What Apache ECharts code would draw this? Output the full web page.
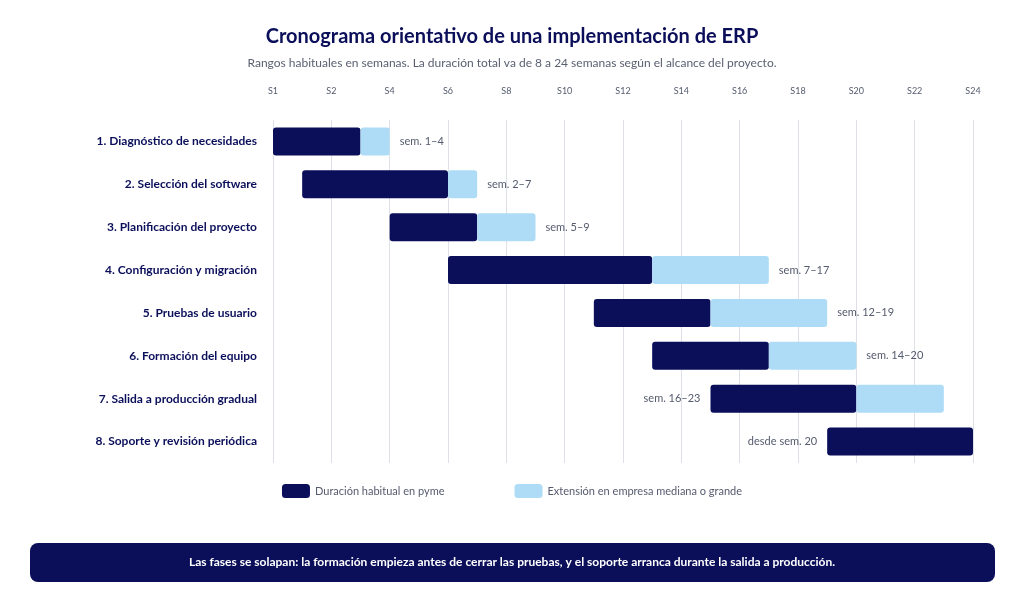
<!DOCTYPE html>
<html>
<head>
<meta charset="utf-8">
<script src="https://cdn.jsdelivr.net/npm/echarts@6/dist/echarts.min.js"></script>
<style>
  html, body { margin: 0; padding: 0; background: #fff; }
  #chart { width: 1024px; height: 597px; }
</style>
</head>
<body>
<div id="chart"></div>
<script>
/* datos */
const phases = ['1. Diagnóstico de necesidades', '2. Selección del software', '3. Planificación del proyecto',
  '4. Configuración y migración', '5. Pruebas de usuario', '6. Formación del equipo',
  '7. Salida a producción gradual', '8. Soporte y revisión periódica'];
const startVal = [0, 1, 4, 6, 11, 13, 15, 19];
const smeEnd = [3, 6, 7, 13, 15, 17, 20, 24];
const bigEnd = [4, 7, 9, 17, 19, 20, 23, 24];
const rangeLabels = ['sem. 1–4', 'sem. 2–7', 'sem. 5–9', 'sem. 7–17', 'sem. 12–19', 'sem. 14–20', 'sem. 16–23', 'desde sem. 20'];
const labelLeft = [false, false, false, false, false, false, true, true];

const NAVY = '#0b0f5a';
const LIGHT = '#aedcf7';
const FONT = 'Lato, "Open Sans", sans-serif';

const chart = echarts.init(document.getElementById('chart'));

const labelText = { color: '#555b6e', fontSize: 11, fontFamily: FONT };

chart.setOption({
  animation: false,
  textStyle: { fontFamily: FONT },
  title: {
    text: 'Cronograma orientativo de una implementación de ERP',
    subtext: 'Rangos habituales en semanas. La duración total va de 8 a 24 semanas según el alcance del proyecto.',
    left: 'center', top: 22, itemGap: 10,
    textStyle: { color: NAVY, fontSize: 20, fontWeight: 'bold', fontFamily: FONT },
    subtextStyle: { color: '#5a5f70', fontSize: 12, fontFamily: FONT }
  },
  legend: {
    bottom: 94, left: 'center', itemWidth: 28, itemHeight: 14, itemGap: 70,
    data: ['Duración habitual en pyme', 'Extensión en empresa mediana o grande'],
    textStyle: { color: '#555b6e', fontSize: 11, fontFamily: FONT }
  },
  grid: { left: 273, right: 51, top: 120, bottom: 134 },
  xAxis: {
    type: 'value', position: 'top', min: 0, max: 24, interval: 2,
    axisLine: { show: false }, axisTick: { show: false },
    splitLine: { lineStyle: { color: '#dde0e6' } },
    axisLabel: { color: '#555b6e', fontSize: 9, margin: 24, formatter: v => v === 0 ? 'S1' : 'S' + v }
  },
  yAxis: {
    type: 'category', inverse: true, data: phases,
    axisLine: { show: false }, axisTick: { show: false },
    axisLabel: { color: NAVY, fontSize: 12, fontWeight: 'bold', margin: 16 }
  },
  series: [
    {
      name: 'base', type: 'bar', stack: 'g', barWidth: 28, silent: true,
      itemStyle: { color: 'transparent' },
      data: startVal.map((v, i) => ({
        value: v,
        label: labelLeft[i] ? { show: true, position: 'insideRight', distance: 10, formatter: rangeLabels[i], ...labelText } : { show: false }
      }))
    },
    {
      name: 'Duración habitual en pyme', type: 'bar', stack: 'g', barWidth: 28,
      itemStyle: { color: NAVY, borderRadius: 3 },
      data: smeEnd.map((v, i) => v - startVal[i])
    },
    {
      name: 'Extensión en empresa mediana o grande', type: 'bar', stack: 'g', barWidth: 28,
      itemStyle: { color: LIGHT, borderRadius: 3 },
      data: bigEnd.map((v, i) => ({
        value: v - smeEnd[i],
        label: !labelLeft[i] ? { show: true, position: 'right', distance: 10, formatter: rangeLabels[i], ...labelText } : { show: false }
      }))
    }
  ],
  graphic: [
    {
      type: 'rect', left: 30, top: 543,
      shape: { width: 965, height: 39, r: 8 },
      style: { fill: NAVY }
    },
    {
      type: 'text', left: 'center', top: 556,
      style: {
        text: 'Las fases se solapan: la formación empieza antes de cerrar las pruebas, y el soporte arranca durante la salida a producción.',
        fill: '#fff', fontSize: 12, fontWeight: 'bold', fontFamily: FONT
      }
    }
  ]
});
</script>
</body>
</html>
